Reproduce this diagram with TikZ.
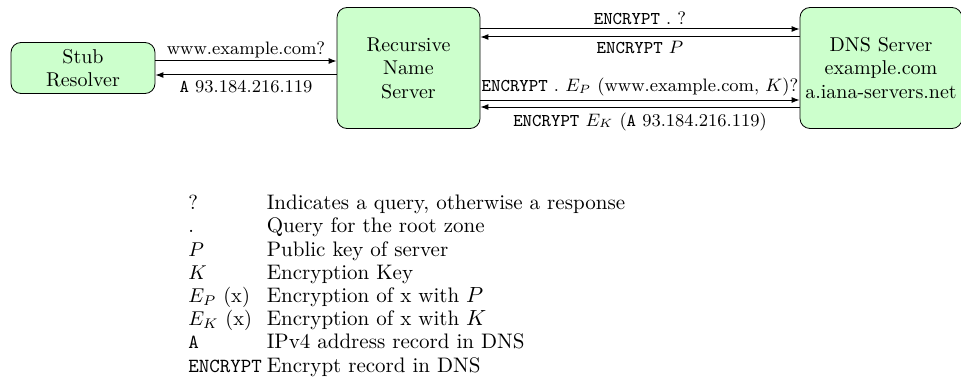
\documentclass[tikz,border=0pt]{standalone}
\usepackage{array}
\usetikzlibrary{arrows.meta}
\definecolor{boxgreen}{RGB}{204,255,204}
\newcommand{\keysize}{\fontsize{10.2}{11.6}\selectfont}
\newcommand{\rectype}[1]{{\fontsize{10}{11.6}\selectfont\ttfamily #1}}
\begin{document}
\begin{tikzpicture}[x=0.5pt,y=-0.5pt,
  box/.style={draw, rounded corners=5pt, fill=boxgreen, align=center,
    font=\fontsize{10}{11.8}\selectfont, inner sep=0pt},
  lbl/.style={font=\fontsize{9}{11}\selectfont, inner sep=0pt},
  msg/.style={-{Latex[length=4pt,width=3pt]}, line width=0.5pt}]
\useasboundingbox (0,0) rectangle (961,385);

% the three parties
\node[box, minimum width=72pt, minimum height=25.5pt] (stub) at (83,68) {Stub\\Resolver};
\node[box, minimum width=71.5pt, minimum height=60.5pt] (rec) at (408.5,68) {Recursive\\Name\\Server};
\node[box, minimum width=81pt, minimum height=60.5pt] (dns) at (881,68) {DNS Server\\example.com\\a.iana-servers.net};

% stub resolver <-> recursive name server
\draw[msg] ([yshift=3.5pt]stub.east) -- node[lbl, midway, above=1.5pt] {www.example.com?} ([yshift=3.5pt]rec.west);
\draw[msg] ([yshift=-3.5pt]rec.west) -- node[lbl, midway, below=2.5pt] {\texttt{A} 93.184.216.119} ([yshift=-3.5pt]stub.east);

% recursive name server <-> authoritative server
\draw[msg] ([yshift=19.5pt]rec.east) -- node[lbl, midway, above=2pt] {\texttt{ENCRYPT} . ?} ([yshift=19.5pt]dns.west);
\draw[msg] ([yshift=15.5pt]dns.west) -- node[lbl, midway, below=2pt] {\texttt{ENCRYPT} $P$} ([yshift=15.5pt]rec.east);
\draw[msg] ([yshift=-16pt]rec.east) -- node[lbl, midway, above=2pt] {\texttt{ENCRYPT} . $E_P$ (www.example.com, $K$)?} ([yshift=-16pt]dns.west);
\draw[msg] ([yshift=-19.5pt]dns.west) -- node[lbl, midway, below=2.5pt] {\texttt{ENCRYPT} $E_K$ (\texttt{A} 93.184.216.119)} ([yshift=-19.5pt]rec.east);

% legend
\node[anchor=north west, inner sep=0pt, font=\fontsize{10.5}{11.6}\selectfont] (legend) at (188,193) {%
  \begin{tabular}{@{}>{\keysize}l@{\hspace{2.5pt}}l@{}}
  ? & Indicates a query, otherwise a response\\
  . & Query for the root zone\\
  $P$ & Public key of server\\
  $K$ & Encryption Key\\
  $E_P$ (x) & Encryption of x with $P$\\
  $E_K$ (x) & Encryption of x with $K$\\
  \rectype{A} & IPv4 address record in DNS\\
  \rectype{ENCRYPT} & Encrypt record in DNS
  \end{tabular}};
\end{tikzpicture}
\end{document}
